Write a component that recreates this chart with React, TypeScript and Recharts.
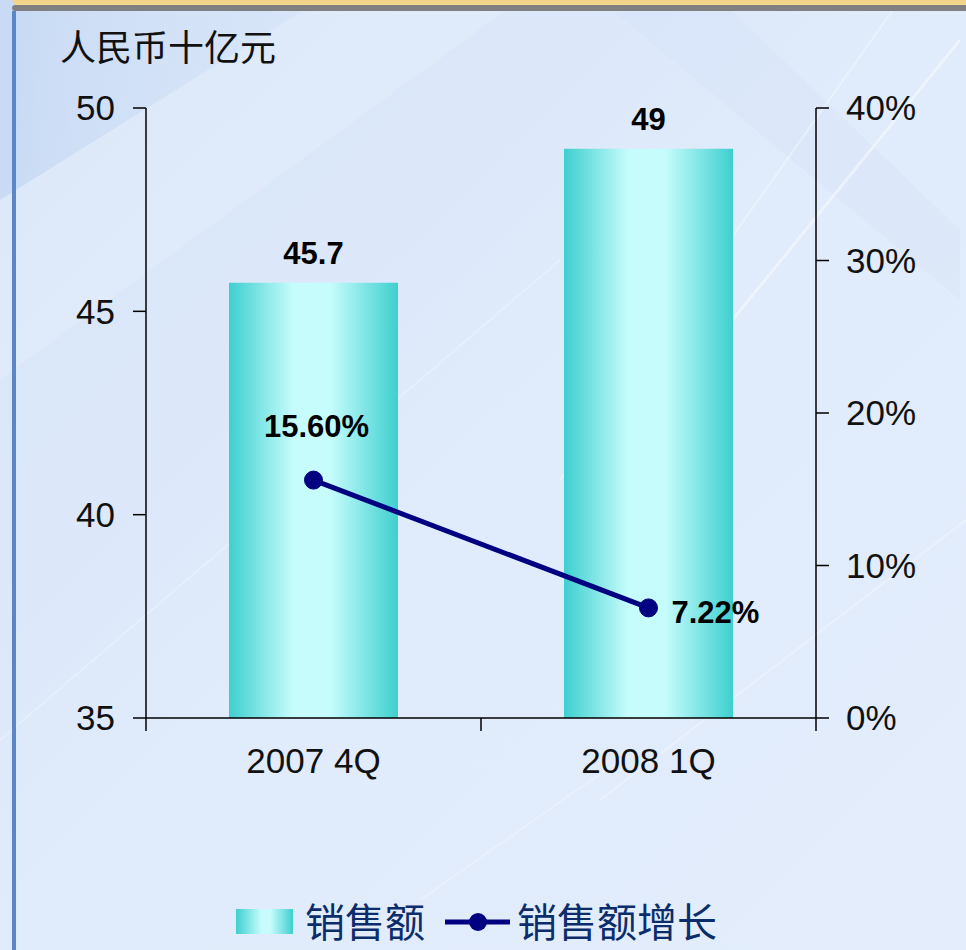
import React from 'react';
import { ComposedChart, Bar, Line, XAxis, YAxis, LabelList } from 'recharts';

const categories = ['2007 4Q', '2008 1Q'];
const sales = [45.7, 49];
const growth = [0.156, 0.0722];
const leftTicks = [35, 40, 45, 50];
const rightTicks = [0, 0.1, 0.2, 0.3, 0.4];

// slot i sits at i + 0.5 on the numeric axis, boundaries at whole numbers
const rows = categories.map((name, i) => ({
  name,
  slot: i + 0.5,
  sales: sales[i],
  growth: growth[i],
}));
const xTicks = [0, ...rows.flatMap((r, i) => [r.slot, i + 1])];

const NAVY = '#000080';
const FONT = '"Liberation Sans", Arial, sans-serif';
const CJK = '"Noto Sans CJK SC", sans-serif';

const XTick = (props: any) => {
  const { x, y, payload } = props;
  const v = payload.value;
  if (Number.isInteger(v)) {
    return <line x1={x} y1={y - 13} x2={x} y2={y} stroke="#000" strokeWidth={1.5} />;
  }
  const row = rows.find((r) => r.slot === v);
  return (
    <text x={x} y={y} dy={42} textAnchor="middle" fontFamily={FONT} fontSize={35} fill="#111">
      {row ? row.name : ''}
    </text>
  );
};

const GrowthLabel = (props: any) => {
  const { x, y, value, index } = props;
  const txt = `${(value * 100).toFixed(2)}%`;
  if (index === 0) {
    return (
      <text x={x + 3} y={y - 43} textAnchor="middle" fontFamily={FONT} fontWeight="bold" fontSize={31} fill="#000">
        {txt}
      </text>
    );
  }
  return (
    <text x={x + 23} y={y + 15} textAnchor="start" fontFamily={FONT} fontWeight="bold" fontSize={31} fill="#000">
      {txt}
    </text>
  );
};

const Background = () => (
  <svg width={966} height={950} style={{ position: 'absolute', left: 0, top: 0 }}>
    <defs>
      <linearGradient id="bgBase" x1="0" y1="0" x2="1" y2="1">
        <stop offset="0%" stopColor="#d6e4f8" />
        <stop offset="50%" stopColor="#e0ebfb" />
        <stop offset="100%" stopColor="#e3edfc" />
      </linearGradient>
      <linearGradient id="swoosh" x1="0" y1="0" x2="1" y2="0">
        <stop offset="0%" stopColor="#b2cbee" stopOpacity={0.8} />
        <stop offset="100%" stopColor="#cddff5" stopOpacity={0.2} />
      </linearGradient>
    </defs>
    <rect width={966} height={950} fill="url(#bgBase)" />
    <polygon points="0,0 320,0 0,200" fill="url(#swoosh)" opacity={0.5} />
    <polygon points="320,0 520,0 0,380 0,200" fill="#ffffff" opacity={0.15} />
    <polygon points="600,0 720,0 960,230 960,300" fill="#cbdcf3" opacity={0.2} />
    <line x1={960} y1={40} x2={700} y2={360} stroke="#fff" strokeWidth={3} opacity={0.45} />
    <line x1={900} y1={0} x2={560} y2={480} stroke="#fff" strokeWidth={2} opacity={0.35} />
    <line x1={966} y1={520} x2={600} y2={800} stroke="#fff" strokeWidth={2} opacity={0.3} />
    <line x1={560} y1={260} x2={0} y2={740} stroke="#fff" strokeWidth={2} opacity={0.25} />
    <line x1={420} y1={900} x2={620} y2={760} stroke="#fff" strokeWidth={2} opacity={0.25} />
    <rect x={12} y={-20} width={960} height={26} rx={8} fill="#f2d58a" />
    <rect x={12} y={5} width={960} height={6} rx={3} fill="#808080" />
    <rect x={12} y={11} width={4} height={940} fill="#5b87c9" />
  </svg>
);

const LegendOverlay = () => (
  <svg width={966} height={950} style={{ position: 'absolute', left: 0, top: 0, pointerEvents: 'none' }}>
    <defs>
      <linearGradient id="legGrad" x1="0" y1="0" x2="1" y2="0">
        <stop offset="0%" stopColor="#3ecfcf" />
        <stop offset="45%" stopColor="#c8fcfc" />
        <stop offset="60%" stopColor="#c8fcfc" />
        <stop offset="100%" stopColor="#3ecfcf" />
      </linearGradient>
    </defs>
    <rect x={236} y={909} width={57} height={25} fill="url(#legGrad)" />
    <text x={305} y={937} fontFamily={CJK} fontSize={40} fill="#0c2d6b">销售额</text>
    <line x1={445} y1={922} x2={510} y2={922} stroke={NAVY} strokeWidth={5} />
    <circle cx={478} cy={922} r={9} fill={NAVY} />
    <text x={517} y={937} fontFamily={CJK} fontSize={40} fill="#0c2d6b">销售额增长</text>
    <text x={60} y={61} fontFamily={CJK} fontSize={36} fill="#111">人民币十亿元</text>
  </svg>
);

export default function App() {
  return (
    <div style={{ position: 'absolute', left: 0, top: 0, width: 966, height: 950, overflow: 'hidden' }}>
      <Background />
      <div style={{ position: 'absolute', left: 0, top: 0 }}>
        <ComposedChart width={966} height={950} data={rows} margin={{ top: 108, right: 0, left: 0, bottom: 172 }}>
          <defs>
            <linearGradient id="barGrad" x1="0" y1="0" x2="1" y2="0">
              <stop offset="0%" stopColor="#3ecfcf" />
              <stop offset="38%" stopColor="#c6fcfc" />
              <stop offset="60%" stopColor="#c6fcfc" />
              <stop offset="100%" stopColor="#3ecfcf" />
            </linearGradient>
          </defs>
          <XAxis
            dataKey="slot"
            type="number"
            domain={[0, categories.length]}
            ticks={xTicks}
            interval={0}
            height={60}
            tickSize={13}
            tickMargin={0}
            tickLine={false}
            axisLine={{ stroke: '#000', strokeWidth: 1.5 }}
            tick={<XTick />}
          />
          <YAxis
            yAxisId="l"
            domain={[35, 50]}
            ticks={leftTicks}
            width={146}
            tickSize={13}
            tickMargin={18}
            allowDataOverflow
            axisLine={{ stroke: '#000', strokeWidth: 1.5 }}
            tickLine={{ stroke: '#000', strokeWidth: 1.5 }}
            tick={{ fontFamily: FONT, fontSize: 35, fill: '#111' }}
          />
          <YAxis
            yAxisId="r"
            orientation="right"
            domain={[0, 0.4]}
            ticks={rightTicks}
            width={150}
            tickSize={13}
            tickMargin={17}
            tickFormatter={(v: number) => `${Math.round(v * 100)}%`}
            axisLine={{ stroke: '#000', strokeWidth: 1.5 }}
            tickLine={{ stroke: '#000', strokeWidth: 1.5 }}
            tick={{ fontFamily: FONT, fontSize: 35, fill: '#111' }}
          />
          <Bar yAxisId="l" dataKey="sales" barSize={169} fill="url(#barGrad)" isAnimationActive={false}>
            <LabelList
              dataKey="sales"
              position="top"
              offset={19}
              style={{ fontFamily: FONT, fontWeight: 'bold', fontSize: 31, fill: '#000' }}
            />
          </Bar>
          <Line
            yAxisId="r"
            dataKey="growth"
            stroke={NAVY}
            strokeWidth={5}
            dot={{ r: 9, fill: NAVY, stroke: NAVY, strokeWidth: 1 }}
            activeDot={false}
            isAnimationActive={false}
          >
            <LabelList dataKey="growth" content={<GrowthLabel />} />
          </Line>
        </ComposedChart>
      </div>
      <LegendOverlay />
    </div>
  );
}
